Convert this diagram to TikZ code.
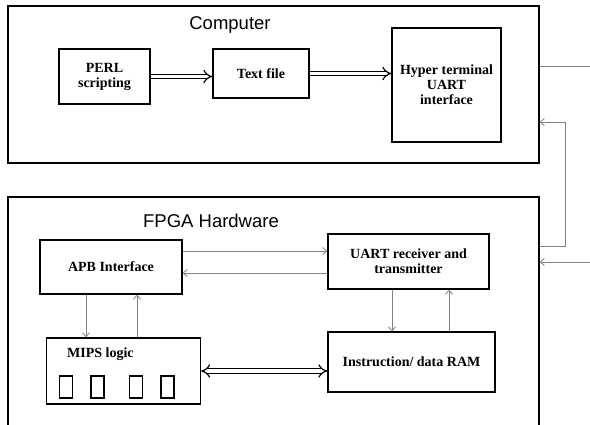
\documentclass[tikz,border=0pt]{standalone}
\usepackage{fontspec}
\setmainfont{Liberation Serif}
\newfontfamily\titlefont{Liberation Sans}
\usetikzlibrary{arrows.meta}
\tikzset{
  bigbox/.style={draw=black, line width=1.5pt, minimum width=#1, inner sep=0pt},
  blkfont/.style={font=\bfseries\fontsize{14}{15}\selectfont},
  blk/.style={draw=black, line width=1.3pt, inner sep=0pt, align=center, blkfont},
  lbl/.style={inner sep=0pt, blkfont},
  slot/.style={draw=black, line width=1.2pt, minimum width=13pt, minimum height=22pt, inner sep=0pt},
  thinarrow/.style={draw=gray, line width=0.8pt, -{Straight Barb[length=4pt,width=7pt]}},
  thinline/.style={draw=gray, line width=0.8pt},
  dblarrow/.style={double=white, draw=black, line width=1.2pt, double distance=3.4pt, -{Implies}},
  dbl2arrow/.style={double=white, draw=black, line width=1.2pt, double distance=3.4pt, {Implies}-{Implies}},
  ttl/.style={font=\titlefont\fontsize{18.5}{21}\selectfont, inner sep=0pt}
}
\begin{document}
\begin{tikzpicture}[x=1pt,y=-1pt]
\useasboundingbox (0,0) rectangle (590,424);
% Computer
\node[bigbox=531pt, minimum height=157pt] (comp) at (273.5,84.5) {};
\node[ttl] (comptitle) at (230,25) {Computer};
\node[blk, minimum width=91pt, minimum height=55pt] (perl) at (104.5,76.5) {PERL\\scripting};
\node[blk, minimum width=96pt, minimum height=49pt] (text) at (261,73.5) {Text file};
\node[blk, minimum width=109pt, minimum height=114pt] (hyper) at (446.5,85) {Hyper terminal\\UART\\interface};
\draw[dblarrow] (perl.east) -- (text.west |- perl.east);
\draw[dblarrow] (text.east) -- (hyper.west |- text.east);
% FPGA
\node[bigbox=531pt, minimum height=230pt] (fpga) at (273.5,312) {};
\node[ttl] (fpgatitle) at (211,221) {FPGA Hardware};
\node[blk, minimum width=142pt, minimum height=54pt] (apb) at (111,267) {APB Interface};
\node[blk, minimum width=161pt, minimum height=55pt] (uart) at (408.5,261.5) {UART receiver and\\transmitter};
\node[blk, minimum width=154pt, minimum height=66pt] (mips) at (123.5,371) {};
\node[lbl, anchor=west] (mipslbl) at (67,354) {MIPS logic};
\node[slot] (s1) at (66,387) {};
\node[slot] (s2) at (97.5,387) {};
\node[slot] (s3) at (136,387) {};
\node[slot] (s4) at (167.5,387) {};
\node[blk, minimum width=167pt, minimum height=60pt] (instr) at (411.5,362) {Instruction/ data RAM};
% helper coordinates
\coordinate (ya) at (0,251);
\coordinate (yb) at (0,273);
\coordinate (xa) at (86,0);
\coordinate (xb) at (137,0);
\coordinate (xc) at (392,0);
\coordinate (xd) at (449,0);
\coordinate (ym) at (0,371);
\draw[thinarrow] (apb.east |- ya) -- (uart.west |- ya);
\draw[thinarrow] (uart.west |- yb) -- (apb.east |- yb);
\draw[thinarrow] (apb.south -| xa) -- (mips.north -| xa);
\draw[thinarrow] (mips.north -| xb) -- (apb.south -| xb);
\draw[thinarrow] (uart.south -| xc) -- (instr.north -| xc);
\draw[thinarrow] (instr.north -| xd) -- (uart.south -| xd);
\draw[dbl2arrow] (mips.east |- ym) -- (instr.west |- ym);
% external links
\coordinate (out1) at (590,66);
\coordinate (ret0) at (0,246);
\coordinate (ret1) at (565,122);
\coordinate (in1) at (590,262);
\draw[thinline] (comp.east |- out1) -- (out1);
\draw[thinarrow] (fpga.east |- ret0) -| (ret1) -- (comp.east |- ret1);
\draw[thinarrow] (in1) -- (fpga.east |- in1);
\end{tikzpicture}
\end{document}
